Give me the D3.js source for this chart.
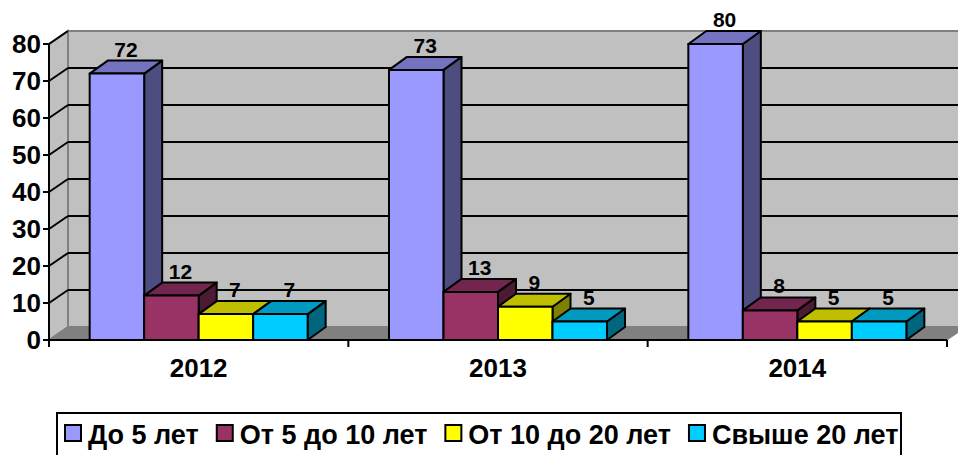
<!DOCTYPE html>
<html>
<head>
<meta charset="utf-8">
<script src="https://cdn.jsdelivr.net/npm/d3@7"></script>
<style>
  body { margin: 0; background: #fff; }
  text { font-family: "Liberation Sans", Arial, sans-serif; font-weight: bold; fill: #000; }
</style>
</head>
<body>
<script>
const years = ["2012", "2013", "2014"];
const seriesNames = ["До 5 лет", "От 5 до 10 лет", "От 10 до 20 лет", "Свыше 20 лет"];
const seriesColors = ["#9999ff", "#993366", "#ffff00", "#00ccff"];
const upTo5 = [72, 73, 80];
const from5to10 = [12, 13, 8];
const from10to20 = [7, 9, 5];
const over20 = [7, 5, 5];
const yTicks = [0, 10, 20, 30, 40, 50, 60, 70, 80];

const values = [upTo5, from5to10, from10to20, over20];

const width = 958, height = 455;
const dx = 19, dy = -13;       // wall depth
const bdx = 18, bdy = -13;     // bar depth
const plotLeft = 49, plotRight = 947, plotBottom = 340, plotTop = 44;

const svg = d3.select("body").append("svg")
  .attr("width", width).attr("height", height);

const y = d3.scaleLinear().domain([0, 80]).range([plotBottom, plotTop]);
const x0 = d3.scaleBand().domain(years).range([plotLeft, plotRight]);
const groupW = 218;
const x1 = d3.scaleBand().domain(seriesNames)
  .range([(x0.bandwidth() - groupW) / 2, (x0.bandwidth() + groupW) / 2]);

function shade(c, k) {
  const r = d3.rgb(c);
  return d3.rgb(r.r * k, r.g * k, r.b * k).formatHex();
}
const pts = (a) => a.map((p) => p.join(",")).join(" ");

// back wall
svg.append("polygon")
  .attr("points", pts([[plotLeft + dx, y(0) + dy], [plotRight + dx, y(0) + dy], [plotRight + dx, y(80) + dy], [plotLeft + dx, y(80) + dy]]))
  .attr("fill", "#c0c0c0").attr("stroke", "#808080").attr("stroke-width", 2);

// side wall
svg.append("polygon")
  .attr("points", pts([[plotLeft, y(0)], [plotLeft + dx, y(0) + dy], [plotLeft + dx, y(80) + dy], [plotLeft, y(80)]]))
  .attr("fill", "#c0c0c0").attr("stroke", "#808080").attr("stroke-width", 2);

// floor
svg.append("polygon")
  .attr("points", pts([[plotLeft, y(0)], [plotRight, y(0)], [plotRight + dx, y(0) + dy], [plotLeft + dx, y(0) + dy]]))
  .attr("fill", "#808080").attr("stroke", "#808080").attr("stroke-width", 1);

// gridlines (back wall + side wall)
const grid = svg.append("g");
yTicks.filter((t) => t > 0 && t < 80).forEach((t) => {
  grid.append("line")
    .attr("x1", plotLeft + dx).attr("x2", plotRight + dx)
    .attr("y1", y(t) + dy).attr("y2", y(t) + dy)
    .attr("stroke", "#000").attr("stroke-width", 2);
});
yTicks.filter((t) => t > 0).forEach((t) => {
  grid.append("line")
    .attr("x1", plotLeft).attr("x2", plotLeft + dx)
    .attr("y1", y(t)).attr("y2", y(t) + dy)
    .attr("stroke", "#000").attr("stroke-width", 2);
});

// bars
const bars = svg.append("g");
years.forEach((yr, i) => {
  seriesNames.forEach((s, j) => {
    const v = values[j][i];
    const bx = x0(yr) + x1(s);
    const bw = x1.bandwidth();
    const yt = y(v), yb = y(0);
    const g = bars.append("g")
      .attr("stroke", "#000").attr("stroke-width", 2).attr("stroke-linejoin", "round");
    // side
    g.append("polygon")
      .attr("points", pts([[bx + bw, yb], [bx + bw + bdx, yb + bdy], [bx + bw + bdx, yt + bdy], [bx + bw, yt]]))
      .attr("fill", shade(seriesColors[j], 0.5));
    // top
    g.append("polygon")
      .attr("points", pts([[bx, yt], [bx + bw, yt], [bx + bw + bdx, yt + bdy], [bx + bdx, yt + bdy]]))
      .attr("fill", shade(seriesColors[j], 0.75));
    // front
    g.append("rect")
      .attr("x", bx).attr("y", yt).attr("width", bw).attr("height", yb - yt)
      .attr("fill", seriesColors[j]);
  });
});

// value labels
years.forEach((yr, i) => {
  seriesNames.forEach((s, j) => {
    const v = values[j][i];
    svg.append("text")
      .attr("x", x0(yr) + x1(s) + x1.bandwidth() / 2 + bdx / 2)
      .attr("y", y(v) - 17)
      .attr("text-anchor", "middle")
      .attr("font-size", 21)
      .text(v);
  });
});

// y axis
const yAxis = svg.append("g");
yAxis.append("line")
  .attr("x1", plotLeft).attr("x2", plotLeft).attr("y1", y(0) + 1).attr("y2", y(80))
  .attr("stroke", "#000").attr("stroke-width", 2);
yTicks.forEach((t) => {
  yAxis.append("line")
    .attr("x1", plotLeft - 6).attr("x2", plotLeft).attr("y1", y(t)).attr("y2", y(t))
    .attr("stroke", "#000").attr("stroke-width", 2);
  yAxis.append("text")
    .attr("x", plotLeft - 8).attr("y", y(t))
    .attr("dy", "0.36em")
    .attr("text-anchor", "end")
    .attr("font-size", 26)
    .text(t);
});

// x axis
const xAxis = svg.append("g");
xAxis.append("line")
  .attr("x1", plotLeft).attr("x2", plotRight).attr("y1", y(0)).attr("y2", y(0))
  .attr("stroke", "#000").attr("stroke-width", 2);
[...years.map((yr) => x0(yr)), plotRight].forEach((tx) => {
  xAxis.append("line")
    .attr("x1", tx).attr("x2", tx).attr("y1", y(0)).attr("y2", y(0) + 7)
    .attr("stroke", "#000").attr("stroke-width", 2);
});
years.forEach((yr) => {
  xAxis.append("text")
    .attr("x", x0(yr) + x0.bandwidth() / 2)
    .attr("y", 377)
    .attr("text-anchor", "middle")
    .attr("font-size", 26)
    .text(yr);
});

// legend
const legend = svg.append("g");
legend.append("rect")
  .attr("x", 57).attr("y", 413).attr("width", 844).attr("height", 60)
  .attr("fill", "#fff").attr("stroke", "#000").attr("stroke-width", 2);
let lx = 65;
seriesNames.forEach((s, j) => {
  legend.append("rect")
    .attr("x", lx).attr("y", 425).attr("width", 16).attr("height", 16)
    .attr("fill", seriesColors[j]).attr("stroke", "#000").attr("stroke-width", 2);
  const t = legend.append("text")
    .attr("x", lx + 23).attr("y", 444)
    .attr("font-size", 27)
    .text(s);
  lx += 23 + t.node().getComputedTextLength() + 18;
});
</script>
</body>
</html>
